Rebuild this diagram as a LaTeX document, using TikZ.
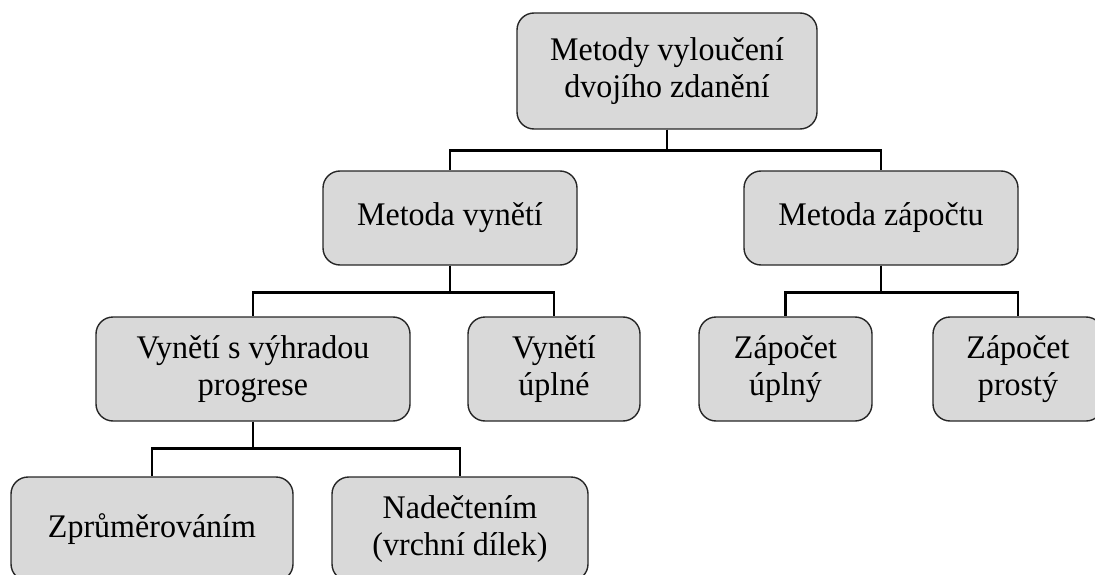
\documentclass[tikz,border=0pt]{standalone}
\usepackage{fontspec}
\setmainfont{Liberation Serif}[FakeStretch=0.97]
\definecolor{boxgray}{HTML}{D9D9D9}
\definecolor{boxline}{HTML}{262626}
\begin{document}
\begin{tikzpicture}[x=1pt,y=-1pt,
  box/.style={draw=boxline, line width=1.4pt, fill=boxgray, rounded corners=17pt,
    align=center, inner sep=0pt, minimum height=104pt,
    font=\fontsize{33}{37}\selectfont},
  conn/.style={line width=2.7pt, draw=black}]
\useasboundingbox (0,0) rectangle (1095,575);
\clip (0,0) rectangle (1095,575);
% nodes
\node[box, minimum width=300pt, minimum height=116pt] (root) at (667,71) {Metody vyloučení\\dvojího zdanění};
\node[box, minimum width=254pt, minimum height=94pt] (vyn) at (450,218) {Metoda vynětí};
\node[box, minimum width=274pt, minimum height=94pt] (zap) at (881,218) {Metoda zápočtu};
\node[box, minimum width=314pt] (vhr) at (253,369) {Vynětí s výhradou\\progrese};
\node[box, minimum width=172pt] (vup) at (554,369) {Vynětí\\úplné};
\node[box, minimum width=173pt] (zu) at (785.5,369) {Zápočet\\úplný};
\node[box, minimum width=170pt] (zp) at (1018,369) {Zápočet\\prostý};
\node[box, minimum width=282pt] (zpr) at (152,529) {Zprůměrováním};
\node[box, minimum width=256pt] (nad) at (460,529) {Nadečtením\\(vrchní dílek)};
% connectors
\draw[conn] (root.south) -- ++(0,21) -| (vyn.north);
\draw[conn] (root.south) -- ++(0,21) -| (zap.north);
\draw[conn] (vyn.south) -- ++(0,27) -| (vhr.north);
\draw[conn] (vyn.south) -- ++(0,27) -| (vup.north);
\draw[conn] (zap.south) -- ++(0,27) -| (zu.north);
\draw[conn] (zap.south) -- ++(0,27) -| (zp.north);
\draw[conn] (vhr.south) -- ++(0,27) -| (zpr.north);
\draw[conn] (vhr.south) -- ++(0,27) -| (nad.north);
\end{tikzpicture}
\end{document}
